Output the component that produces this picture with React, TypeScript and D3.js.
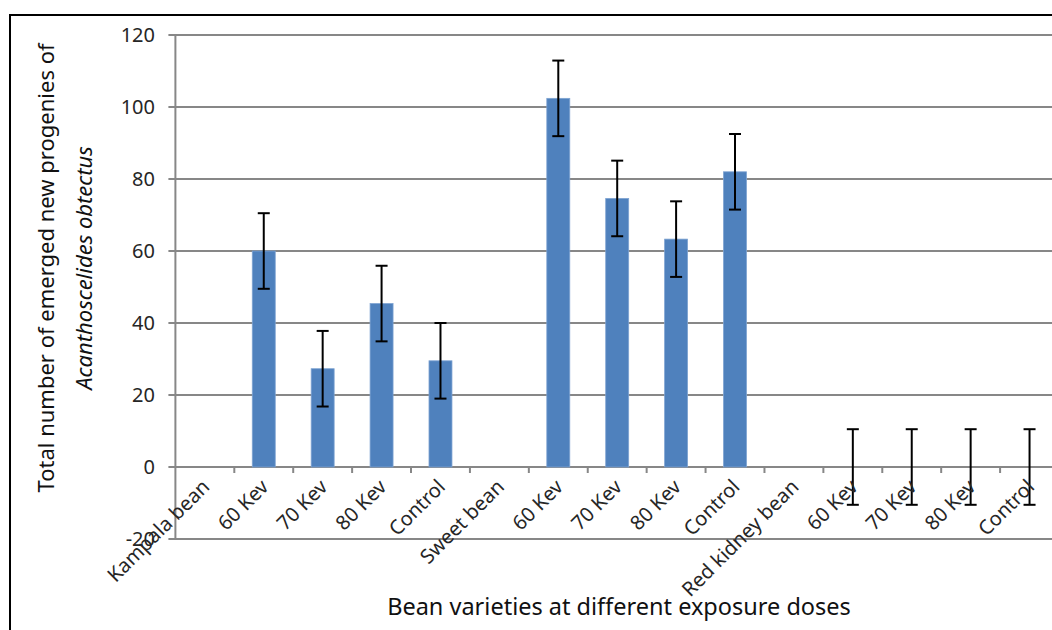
import React, { useRef, useEffect } from 'react';
import * as d3 from 'd3';

const categories = [
  'Kampala bean', '60 Kev', '70 Kev', '80 Kev', 'Control',
  'Sweet bean', '60 Kev', '70 Kev', '80 Kev', 'Control',
  'Red kidney bean', '60 Kev', '70 Kev', '80 Kev', 'Control',
];
const values = [null, 60, 27.3, 45.4, 29.5, null, 102.4, 74.6, 63.3, 82, null, 0, 0, 0, 0];
const errors = [null, 10.5, 10.5, 10.5, 10.5, null, 10.5, 10.5, 10.5, 10.5, null, 10.5, 10.5, 10.5, 10.5];
const yTicks = [-20, 0, 20, 40, 60, 80, 100, 120];

const FONT = "'Noto Sans', 'Open Sans', sans-serif";

const App = () => {
  const svgRef = useRef<SVGSVGElement>(null);

  useEffect(() => {
    const width = 1052;
    const height = 630;
    const svg = d3.select(svgRef.current).attr('width', width).attr('height', height);
    svg.selectAll('*').remove();

    svg.append('rect').attr('width', width).attr('height', height).attr('fill', '#fff');

    // outer frame (runs off the right and bottom edges)
    svg.append('rect')
      .attr('x', 10).attr('y', 15)
      .attr('width', 1100).attr('height', 700)
      .attr('fill', 'none').attr('stroke', '#000').attr('stroke-width', 2);

    const left = 175.4;
    const right = 1059;

    const x = d3.scaleBand<number>().domain(d3.range(categories.length)).range([left, right]).padding(0);
    const y = d3.scaleLinear().domain([-20, 120]).range([539, 35]);

    // grid lines + y ticks
    const grid = svg.append('g');
    grid.selectAll('line')
      .data(yTicks)
      .enter()
      .append('line')
      .attr('x1', left - 7).attr('x2', right + 10)
      .attr('y1', d => y(d)).attr('y2', d => y(d))
      .attr('stroke', '#878787').attr('stroke-width', 2);

    grid.selectAll('text')
      .data(yTicks)
      .enter()
      .append('text')
      .attr('x', 155).attr('y', d => y(d))
      .attr('dy', '0.35em')
      .attr('text-anchor', 'end')
      .attr('font-family', FONT).attr('font-size', 20)
      .attr('fill', '#262626')
      .text(d => d);

    // y axis line
    svg.append('line')
      .attr('x1', left).attr('x2', left)
      .attr('y1', y(120)).attr('y2', y(-20))
      .attr('stroke', '#878787').attr('stroke-width', 2);

    // x tick marks along the zero line
    svg.append('g').selectAll('line')
      .data(d3.range(1, categories.length + 1))
      .enter()
      .append('line')
      .attr('x1', d => left + d * x.bandwidth()).attr('x2', d => left + d * x.bandwidth())
      .attr('y1', y(0)).attr('y2', y(0) + 6)
      .attr('stroke', '#878787').attr('stroke-width', 2);

    // bars
    const barW = x.bandwidth() * 0.39;
    const idx = d3.range(categories.length).filter(i => values[i] !== null && (values[i] as number) > 0);
    svg.append('g').selectAll('rect')
      .data(idx)
      .enter()
      .append('rect')
      .attr('x', i => (x(i) as number) + x.bandwidth() / 2 - barW / 2)
      .attr('y', i => y(values[i] as number))
      .attr('width', barW)
      .attr('height', i => y(0) - y(values[i] as number))
      .attr('fill', '#4f81bd')
      .attr('stroke', '#7ea3d2')
      .attr('stroke-width', 0.8);

    // error bars
    const eIdx = d3.range(categories.length).filter(i => values[i] !== null);
    const eb = svg.append('g').attr('stroke', '#000').attr('stroke-width', 2);
    eIdx.forEach(i => {
      const cx = (x(i) as number) + x.bandwidth() / 2;
      const v = values[i] as number;
      const e = errors[i] as number;
      eb.append('line').attr('x1', cx).attr('x2', cx).attr('y1', y(v + e)).attr('y2', y(v - e));
      eb.append('line').attr('x1', cx - 6).attr('x2', cx + 6).attr('y1', y(v + e)).attr('y2', y(v + e));
      eb.append('line').attr('x1', cx - 6).attr('x2', cx + 6).attr('y1', y(v - e)).attr('y2', y(v - e));
    });

    // x labels
    svg.append('g').selectAll('text')
      .data(d3.range(categories.length))
      .enter()
      .append('text')
      .attr('transform', i => `translate(${(x(i) as number) + x.bandwidth() / 2 + 6},${y(0) + 21}) rotate(-45)`)
      .attr('text-anchor', 'end')
      .attr('font-family', FONT).attr('font-size', 20)
      .attr('fill', '#262626')
      .text(i => categories[i]);

    // axis titles
    svg.append('text')
      .attr('x', 619).attr('y', 615)
      .attr('text-anchor', 'middle')
      .attr('font-family', FONT).attr('font-size', 23.5)
      .attr('fill', '#111')
      .text('Bean varieties at different exposure doses');

    const yt = svg.append('text')
      .attr('transform', 'translate(0,268) rotate(-90)')
      .attr('text-anchor', 'middle')
      .attr('font-family', FONT).attr('font-size', 22)
      .attr('fill', '#111');
    yt.append('tspan').attr('x', 0).attr('y', 54).text('Total number of emerged new progenies of');
    yt.append('tspan').attr('x', 0).attr('y', 92).attr('font-style', 'italic').text('Acanthoscelides obtectus');
  }, []);

  return <svg ref={svgRef} style={{ position: 'absolute', left: 0, top: 0 }}></svg>;
};

export default App;
